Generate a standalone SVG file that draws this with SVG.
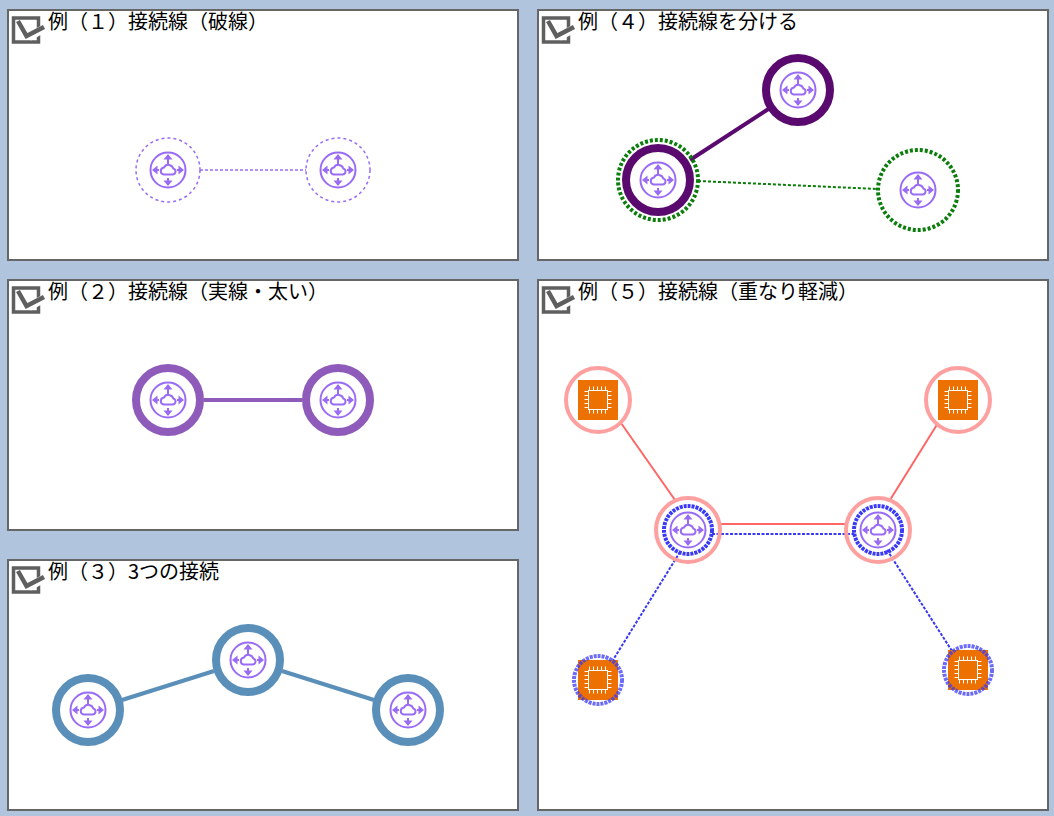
<svg xmlns="http://www.w3.org/2000/svg" xmlns:xlink="http://www.w3.org/1999/xlink" width="1054" height="816" viewBox="0 0 1054 816">
<style>
.panel{fill:#fff;stroke:#666;stroke-width:2}
.title{font-family:"Noto Sans CJK JP","Noto Sans",sans-serif;font-size:20px;fill:#000}
.bg{fill:#fff}
.i{fill:none;stroke:#9a6cf5;stroke-width:2;stroke-linejoin:round}
.a{fill:#9a6cf5;stroke:none}
.c{fill:none;stroke:#5f5f5f;stroke-width:3.5}
.n{fill:none}
.chip{fill:none;stroke:#fff;stroke-width:1}
.ring{fill:none;stroke:#3a3af5;stroke-width:4;stroke-dasharray:3 1}
</style>
<defs>
<g id="router">
<circle class="i" r="17.500"/>
<path class="i" d="M-4.500 4.500H4.500a3 3 0 0 0 .8-5.900a5 5 0 0 0-9.300-1a3.500 3.500 0 0 0-.5 6.900z"/>
<path class="i" d="M0-6V-13M0 8V13M-9 0H-13M9 0H13"/>
<path class="a" d="M0-16L-4.500-10.500H4.500zM0 16L-4.500 10.500H4.500zM-16 0L-10.500-4.500V4.500zM16 0L10.500-4.500V4.500z"/>
</g>
<g id="chip">
<rect x="-20" y="-20" width="40" height="40" fill="#ed7100"/>
<rect class="chip" x="-9.500" y="-9.500" width="19" height="19"/>
<path class="chip" d="M-8.500-9.500v-4M-4.500-9.500v-4M-.5-9.500v-4M3.500-9.500v-4M7.500-9.500v-4M-8.500 9.500v4M-4.500 9.500v4M-.5 9.500v4M3.500 9.500v4M7.500 9.500v4M-9.500-8.500h-4M-9.500-4.500h-4M-9.500-.5h-4M-9.500 3.500h-4M-9.500 7.500h-4M9.500-8.500h4M9.500-4.500h4M9.500-.5h4M9.500 3.500h4M9.500 7.500h4"/>
</g>
<g id="check">
<rect class="c" x="13.500" y="18" width="25" height="24"/>
<path d="M29 37L45 28" fill="none" stroke="#fff" stroke-width="8"/>
<path d="M18 21L26.500 36L44 27" fill="none" stroke="#5f5f5f" stroke-width="4.500"/>
</g>
</defs>
<rect width="1054" height="816" fill="#b0c4de"/>
<g id="panels">
<g id="panel1"><rect class="panel" x="8" y="10" width="510" height="250"/><use xlink:href="#check"/><text class="title" x="48" y="29">例（１）接続線（破線）</text></g>
<g id="panel2"><rect class="panel" x="8" y="280" width="510" height="250"/><use xlink:href="#check" y="270"/><text class="title" x="48" y="299">例（２）接続線（実線・太い）</text></g>
<g id="panel3"><rect class="panel" x="8" y="560" width="510" height="250"/><use xlink:href="#check" y="550"/><text class="title" x="48" y="579">例（３）3つの接続</text></g>
<g id="panel4"><rect class="panel" x="538" y="10" width="510" height="250"/><use xlink:href="#check" x="530"/><text class="title" x="578" y="29">例（４）接続線を分ける</text></g>
<g id="panel5"><rect class="panel" x="538" y="280" width="510" height="530"/><use xlink:href="#check" x="530" y="270"/><text class="title" x="578" y="299">例（５）接続線（重なり軽減）</text></g>
</g>
<g id="connectors" fill="none">
<path d="M200 170H306" stroke="#9a6cf5" stroke-width="1.500" stroke-dasharray="3 2"/>
<path d="M204 400H302" stroke="#8e5bbb" stroke-width="4"/>
<path d="M122 700L214 671M282 671L374 700" stroke="#5a8fb9" stroke-width="4"/>
<path d="M690 160L770 108" stroke="#5a0a6e" stroke-width="4"/>
<path d="M698 181L878 189" stroke="#0a7d0a" stroke-width="2" stroke-dasharray="3 2"/>
<path d="M621 423L675 500M938 423L890 500M718 524H847" stroke="#ff6666" stroke-width="2"/>
<path d="M712 534H855M680 552L613 660M887 550L952 651" stroke="#3a3af5" stroke-width="2" stroke-dasharray="3 1.500"/>
</g>
<g id="n1a"><circle cx="168" cy="170" r="32" class="n" stroke="#9a6cf5" stroke-width="1.500" stroke-dasharray="3 3"/><use xlink:href="#router" x="168" y="170"/></g>
<g id="n1b"><circle cx="338" cy="170" r="32" class="n" stroke="#9a6cf5" stroke-width="1.500" stroke-dasharray="3 3"/><use xlink:href="#router" x="338" y="170"/></g>
<g id="n2a"><circle cx="168" cy="400" r="32" class="bg" stroke="#8e5bbb" stroke-width="8"/><use xlink:href="#router" x="168" y="400"/></g>
<g id="n2b"><circle cx="338" cy="400" r="32" class="bg" stroke="#8e5bbb" stroke-width="8"/><use xlink:href="#router" x="338" y="400"/></g>
<g id="n3a"><circle cx="88" cy="710" r="32" class="bg" stroke="#5a8fb9" stroke-width="8"/><use xlink:href="#router" x="88" y="710"/></g>
<g id="n3b"><circle cx="248" cy="660" r="32" class="bg" stroke="#5a8fb9" stroke-width="8"/><use xlink:href="#router" x="248" y="660"/></g>
<g id="n3c"><circle cx="408" cy="710" r="32" class="bg" stroke="#5a8fb9" stroke-width="8"/><use xlink:href="#router" x="408" y="710"/></g>
<g id="n4a"><circle cx="798" cy="90" r="32" class="bg" stroke="#5a0a6e" stroke-width="8"/><use xlink:href="#router" x="798" y="90"/></g>
<g id="n4b"><circle cx="658" cy="180" r="40" class="n" stroke="#0a7d0a" stroke-width="4" stroke-dasharray="3 2"/><circle cx="658" cy="180" r="32" class="bg" stroke="#5a0a6e" stroke-width="8"/><use xlink:href="#router" x="658" y="180"/></g>
<g id="n4c"><circle cx="918" cy="190" r="40" class="n" stroke="#0a7d0a" stroke-width="4" stroke-dasharray="3 2"/><use xlink:href="#router" x="918" y="190"/></g>
<g id="n5a"><use xlink:href="#chip" x="598" y="400"/><circle cx="598" cy="400" r="32" class="n" stroke="#ffa0a0" stroke-width="4"/></g>
<g id="n5b"><use xlink:href="#chip" x="958" y="400"/><circle cx="958" cy="400" r="32" class="n" stroke="#ffa0a0" stroke-width="4"/></g>
<g id="n5c"><use xlink:href="#router" x="688" y="530"/><circle cx="688" cy="530" r="32" class="n" stroke="#ffa0a0" stroke-width="4"/><circle cx="688" cy="530" r="24" class="ring"/></g>
<g id="n5d"><use xlink:href="#router" x="878" y="530"/><circle cx="878" cy="530" r="32" class="n" stroke="#ffa0a0" stroke-width="4"/><circle cx="878" cy="530" r="24" class="ring"/></g>
<g id="n5e"><use xlink:href="#chip" x="598" y="680"/><circle cx="598" cy="680" r="24" class="ring" stroke-opacity=".75"/></g>
<g id="n5f"><use xlink:href="#chip" x="968" y="670"/><circle cx="968" cy="670" r="24" class="ring" stroke-opacity=".75"/></g>
</svg>
